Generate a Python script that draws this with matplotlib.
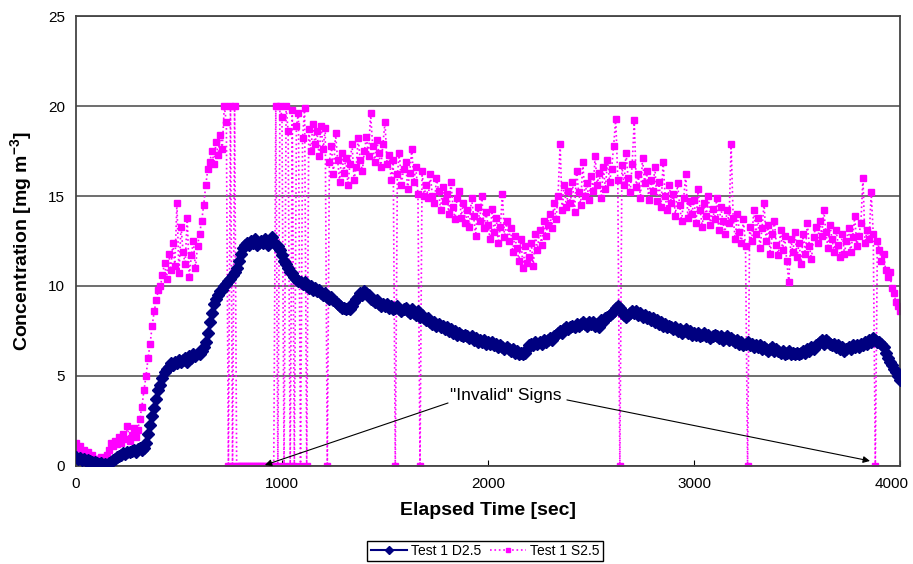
import numpy as np
import matplotlib
matplotlib.use('Agg')
import matplotlib.pyplot as plt
from matplotlib.transforms import ScaledTranslation

plt.rcParams['font.family'] = ['Liberation Sans', 'DejaVu Sans']
plt.rcParams['mathtext.fontset'] = 'custom'
plt.rcParams['mathtext.rm'] = 'Liberation Sans'
plt.rcParams['mathtext.bf'] = 'Liberation Sans:bold'

# elapsed time, one reading every 10 s
time_sec = np.arange(0, 4001, 10)

# Test 1 D2.5
d25 = [
    0.5, 0.4, 0.45, 0.35, 0.4, 0.3, 0.35, 0.25, 0.2, 0.2,
    0.15, 0.1, 0.15, 0.05, 0.1, 0.05, 0.15, 0.2, 0.35, 0.4,
    0.5, 0.55, 0.6, 0.7, 0.65, 0.8, 0.75, 0.85, 0.9, 0.8,
    0.95, 1.0, 0.9, 1.0, 1.3, 1.8, 2.3, 2.8, 3.2, 3.7,
    4.2, 4.5, 4.9, 5.2, 5.4, 5.5, 5.7, 5.6, 5.8, 5.7,
    5.9, 5.8, 5.9, 6.0, 5.8, 6.1, 6.0, 6.2, 6.1, 6.3,
    6.2, 6.4, 6.6, 6.9, 7.4, 8.0, 8.5, 9.0, 9.3, 9.5,
    9.7, 9.8, 10.0, 10.1, 10.3, 10.4, 10.6, 10.8, 11.0, 11.4,
    11.8, 12.1, 12.3, 12.4, 12.3, 12.5, 12.4, 12.6, 12.3, 12.4,
    12.5, 12.4, 12.6, 12.3, 12.5, 12.7, 12.4, 12.3, 12.2, 12.0,
    11.7, 11.4, 11.2, 11.0, 10.8, 10.7, 10.5, 10.4, 10.3, 10.2,
    10.1, 10.2, 10.0, 9.9, 10.0, 9.8, 9.9, 9.7, 9.8, 9.6,
    9.5, 9.6, 9.4, 9.3, 9.4, 9.2, 9.1, 9.0, 8.9, 8.8,
    8.8, 8.7, 8.8, 8.7, 8.9, 9.1, 9.3, 9.4, 9.6, 9.5,
    9.7, 9.6, 9.5, 9.3, 9.2, 9.1, 9.2, 9.0, 8.9, 9.0,
    8.9, 9.0, 8.8, 8.9, 8.7, 8.8, 8.9, 8.7, 8.6, 8.7,
    8.8, 8.6, 8.5, 8.7, 8.5, 8.4, 8.6, 8.3, 8.4, 8.2,
    8.1, 8.2, 8.0, 7.9, 8.0, 7.8, 7.9, 7.7, 7.8, 7.6,
    7.7, 7.5, 7.6, 7.4, 7.5, 7.3, 7.4, 7.3, 7.2, 7.3,
    7.2, 7.1, 7.2, 7.0, 7.1, 6.9, 7.0, 6.9, 7.0, 6.8,
    6.9, 6.8, 6.9, 6.7, 6.8, 6.6, 6.7, 6.6, 6.5, 6.6,
    6.5, 6.4, 6.5, 6.3, 6.4, 6.2, 6.3, 6.2, 6.3, 6.5,
    6.7, 6.8, 6.7, 6.9, 6.8, 6.9, 6.8, 7.0, 6.9, 7.0,
    7.1, 7.0, 7.2, 7.3, 7.4, 7.5, 7.4, 7.6, 7.7, 7.6,
    7.7, 7.8, 7.7, 7.9, 7.8, 7.9, 8.0, 7.9, 7.8, 8.0,
    7.9, 8.0, 7.8, 7.9, 7.7, 8.1, 8.0, 8.2, 8.3, 8.4,
    8.5, 8.6, 8.8, 8.9, 8.8, 8.6, 8.4, 8.3, 8.4, 8.5,
    8.6, 8.5, 8.6, 8.4, 8.5, 8.3, 8.4, 8.2, 8.3, 8.1,
    8.2, 8.0, 8.1, 7.9, 8.0, 7.8, 7.9, 7.7, 7.8, 7.7,
    7.6, 7.7, 7.5, 7.6, 7.4, 7.5, 7.6, 7.4, 7.5, 7.3,
    7.4, 7.3, 7.4, 7.2, 7.3, 7.4, 7.2, 7.3, 7.1, 7.2,
    7.3, 7.2, 7.1, 7.2, 7.0, 7.1, 7.2, 7.0, 7.1, 7.0,
    6.9, 7.0, 6.8, 6.9, 6.7, 6.8, 6.9, 6.7, 6.8, 6.6,
    6.7, 6.6, 6.7, 6.5, 6.6, 6.5, 6.4, 6.5, 6.6, 6.4,
    6.5, 6.4, 6.3, 6.4, 6.2, 6.3, 6.4, 6.2, 6.3, 6.2,
    6.3, 6.2, 6.3, 6.4, 6.3, 6.5, 6.4, 6.6, 6.5, 6.7,
    6.8, 6.9, 7.0, 6.8, 7.0, 6.9, 6.8, 6.7, 6.8, 6.6,
    6.7, 6.5, 6.6, 6.4, 6.5, 6.6, 6.5, 6.7, 6.6, 6.7,
    6.6, 6.8, 6.7, 6.9, 6.8, 7.0, 6.9, 7.1, 7.0, 6.9,
    6.9, 6.8, 6.6, 6.3, 6.0, 5.8, 5.6, 5.4, 5.2, 5.0,
    4.8,
]

# Test 1 S2.5 (zeros are the "invalid" readings)
s25 = [
    1.3, 1.0, 1.1, 0.8, 0.9, 0.7, 0.8, 0.5, 0.6, 0.4,
    0.4, 0.3, 0.5, 0.2, 0.3, 0.6, 0.9, 1.3, 1.1, 1.4,
    1.2, 1.6, 1.3, 1.8, 1.5, 2.2, 1.4, 1.7, 2.1, 1.6,
    2.0, 2.6, 3.3, 4.2, 5.0, 6.0, 6.8, 7.8, 8.6, 9.2,
    9.8, 10.0, 10.6, 11.3, 10.4, 11.8, 10.9, 12.4, 11.1, 14.6,
    10.7, 13.3, 11.9, 11.2, 13.8, 10.5, 11.7, 12.5, 11.0, 12.2,
    12.9, 13.6, 14.5, 15.6, 16.5, 16.9, 17.5, 16.8, 18.0, 17.3,
    18.4, 17.6, 20.0, 19.1, 0.0, 20.0, 0.0, 20.0, 0.0, 0.0,
    0.0, 0.0, 0.0, 0.0, 0.0, 0.0, 0.0, 0.0, 0.0, 0.0,
    0.0, 0.0, 0.0, 0.0, 0.0, 0.0, 0.0, 20.0, 0.0, 20.0,
    19.4, 0.0, 20.0, 18.6, 0.0, 19.8, 0.0, 18.9, 19.6, 0.0,
    18.2, 19.9, 0.0, 18.7, 17.5, 19.0, 17.9, 18.6, 17.2, 18.9,
    17.6, 18.8, 0.0, 16.9, 17.8, 16.2, 18.5, 17.0, 15.8, 17.4,
    16.3, 17.1, 15.6, 16.8, 17.9, 15.9, 16.6, 18.2, 17.0, 16.4,
    17.5, 18.3, 17.2, 19.6, 17.8, 16.9, 18.1, 17.4, 16.6, 17.9,
    19.1, 16.8, 17.3, 15.9, 17.0, 0.0, 16.2, 17.4, 15.6, 16.5,
    16.9, 15.4, 16.3, 17.6, 15.8, 16.6, 15.1, 0.0, 16.4, 15.0,
    15.6, 14.9, 16.2, 15.0, 14.6, 16.0, 15.3, 14.2, 15.5, 14.7,
    15.1, 14.0, 15.8, 14.4, 13.7, 14.9, 15.3, 13.8, 14.6, 13.5,
    14.2, 13.3, 14.9, 13.9, 12.8, 14.4, 13.6, 15.0, 13.2, 14.1,
    13.4, 12.6, 14.3, 13.0, 13.8, 12.4, 13.3, 15.1, 12.7, 13.6,
    12.5, 13.2, 11.9, 12.8, 12.1, 11.4, 12.6, 11.0, 12.2, 11.3,
    11.6, 12.4, 11.1, 12.9, 12.0, 13.1, 12.3, 13.6, 12.8, 13.4,
    14.0, 13.2, 14.6, 13.7, 15.0, 17.9, 14.2, 15.6, 14.4, 15.3,
    14.6, 15.8, 14.1, 16.4, 15.2, 14.5, 16.9, 15.0, 15.7, 14.8,
    16.1, 15.3, 17.2, 15.6, 16.3, 14.9, 16.6, 15.4, 17.0, 15.8,
    16.5, 17.8, 19.3, 15.9, 0.0, 16.7, 15.6, 17.4, 16.0, 15.2,
    16.8, 19.2, 15.5, 16.2, 14.9, 17.1, 15.7, 16.4, 14.8, 15.9,
    15.3, 16.6, 14.7, 15.8, 14.4, 16.9, 15.0, 14.2, 15.6, 14.6,
    15.1, 13.9, 15.7, 14.5, 13.6, 14.9, 16.2, 13.8, 14.7, 14.0,
    14.8, 13.5, 15.4, 14.2, 13.3, 14.6, 13.9, 15.0, 13.4, 14.3,
    13.7, 14.9, 13.1, 14.4, 13.6, 12.9, 14.2, 13.5, 17.9, 13.8,
    12.6, 14.0, 13.0, 12.4, 13.7, 12.2, 0.0, 13.3, 12.5, 14.2,
    12.9, 13.8, 12.1, 13.2, 14.6, 12.5, 13.4, 11.8, 12.9, 13.6,
    12.3, 11.7, 13.1, 12.0, 12.8, 11.4, 10.2, 12.6, 11.9, 13.0,
    11.6, 12.4, 11.2, 12.9, 11.8, 13.5, 12.2, 11.5, 12.7, 13.3,
    12.4, 13.6, 12.8, 14.2, 13.0, 12.1, 13.4, 12.6, 11.9, 13.1,
    12.3, 11.6, 12.9, 11.8, 12.5, 13.2, 11.9, 12.7, 13.9, 12.2,
    12.8, 13.5, 16.0, 12.4, 13.1, 12.6, 15.2, 12.9, 0.0, 12.5,
    12.0, 11.4, 11.8, 10.9, 10.5, 10.8, 9.9, 9.6, 9.1, 8.9,
    8.6,
]

fig = plt.figure(figsize=(9.13, 5.64), dpi=100)
ax = fig.add_axes([0.0832, 0.1738, 0.9026, 0.7978])

ax.plot(time_sec, d25, '-D', color='#000080', lw=1.5, ms=6, label='Test 1 D2.5', zorder=3)
ax.plot(time_sec, s25, ':s', color='#FF00FF', lw=1.2, ms=4, label='Test 1 S2.5', zorder=2)

ax.set_xlim(0, 4000)
ax.set_ylim(0, 25)
ax.set_xticks([0, 1000, 2000, 3000, 4000])
ax.set_yticks([0, 5, 10, 15, 20, 25])
ax.yaxis.grid(True, color='#555555', lw=1.2)
ax.set_axisbelow(True)
for s in ax.spines.values():
    s.set_color('#444444')
    s.set_linewidth(1.3)
ax.tick_params(axis='x', direction='in', length=4, pad=8, labelsize=11)
ax.tick_params(axis='y', length=0, pad=8, labelsize=11)

# last x label sits a little left so it stays inside the figure
last = ax.get_xticklabels()[-1]
last.set_transform(last.get_transform() + ScaledTranslation(-6 / 72, 0, fig.dpi_scale_trans))

ax.set_xlabel('Elapsed Time [sec]', fontsize=14, fontweight='bold', labelpad=8)
ax.set_ylabel(r'Concentration [mg m$\mathbf{^{-3}}$]', fontsize=14, fontweight='bold', labelpad=10)

ax.text(2087, 3.9, '"Invalid" Signs', fontsize=12.5, ha='center', va='center')
arrow = dict(arrowstyle='-|>', color='black', lw=0.8, mutation_scale=10, shrinkA=0, shrinkB=0)
ax.annotate('', xy=(917, 0.05), xytext=(1806, 3.5), arrowprops=arrow)
ax.annotate('', xy=(3854, 0.28), xytext=(2383, 3.67), arrowprops=arrow)

fig.legend(loc='center', bbox_to_anchor=(485 / 913, 13 / 564), ncol=2, fontsize=10,
           frameon=True, fancybox=False, edgecolor='black', framealpha=1, markerscale=0.7,
           handlelength=2.6, columnspacing=0.6, handletextpad=0.3, borderpad=0.25)

fig.savefig('out.png', dpi=100)
